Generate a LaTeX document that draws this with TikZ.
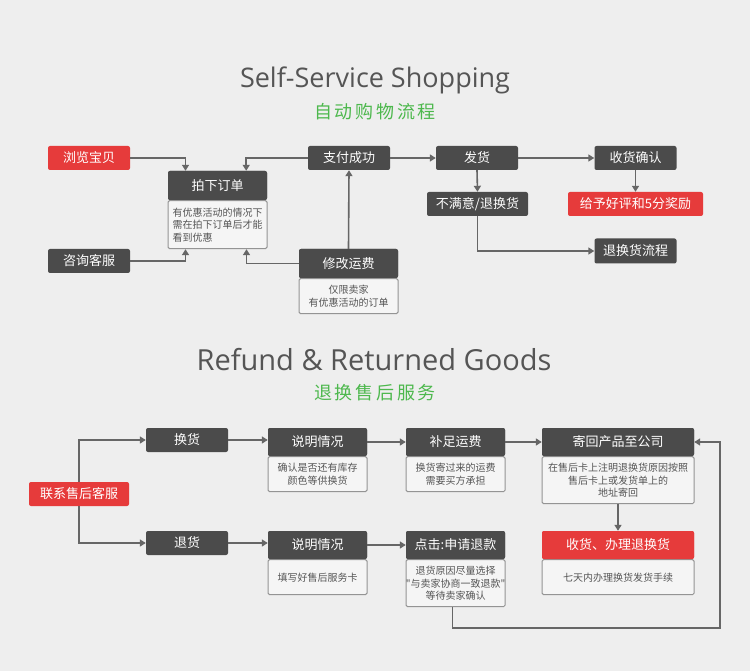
\documentclass[tikz,border=0pt]{standalone}
\usepackage{fontspec}
\newfontfamily\cjk{Noto Sans CJK SC}
\newfontfamily\cjkwide[LetterSpace=15]{Noto Sans CJK SC}
\newfontfamily\titlefont{Open Sans}
\usetikzlibrary{arrows.meta,positioning}
\definecolor{bggray}{HTML}{EEEEEE}
\definecolor{boxgray}{HTML}{4B4B4B}
\definecolor{boxred}{HTML}{E63B3B}
\definecolor{linegray}{HTML}{666666}
\definecolor{notefill}{HTML}{F5F5F5}
\definecolor{notetext}{HTML}{555555}
\definecolor{titlegray}{HTML}{555555}
\definecolor{subgreen}{HTML}{4DB84D}

\begin{document}
\begin{tikzpicture}[x=1pt, y=-1pt,
        dark/.style={rectangle, fill=boxgray, text=white, rounded corners=2pt,
            minimum width=82pt, minimum height=24pt, inner sep=0pt,
            font=\cjk\fontsize{13}{15}\selectfont},
        redbox/.style={dark, fill=boxred},
        head/.style={dark, minimum width=99pt, minimum height=28pt},
        note/.style={rectangle, draw=linegray!70, fill=notefill, line width=1pt,
            rounded corners=1.5pt, anchor=north, inner sep=0pt, align=center,
            text=notetext, font=\cjk\fontsize{10}{12.5}\selectfont},
        flow/.style={draw=linegray, line width=1.6pt,
            -{Triangle[length=6pt, width=7pt]}},
        maintitle/.style={text=titlegray, font=\titlefont\fontsize{27}{30}\selectfont},
        subtitle/.style={text=subgreen, font=\cjkwide\fontsize{18}{20}\selectfont},
    ]
        % Background and bounds
        \fill[bggray] (0,0) rectangle (750,671);
        \useasboundingbox (0,0) rectangle (750,671);

        % Titles
        \node[maintitle] (t1) at (375,80) {Self-Service Shopping};
        \node[subtitle] (s1) at (375,112) {自动购物流程};
        \node[maintitle, font=\titlefont\fontsize{29}{32}\selectfont] (t2)
            at (374,360) {Refund \& Returned Goods};
        \node[subtitle] (s2) at (375,393) {退换售后服务};

        % Shopping flow
        \node[redbox] (ll) at (89,158) {浏览宝贝};
        \node[dark] (zx) at (89,261) {咨询客服};
        \node[head, minimum height=29pt] (xd) at (217.5,185.5) {拍下订单};
        \node[note, minimum width=99pt, minimum height=48pt, align=left] (xdn)
            at (xd.south) {有优惠活动的情况下\\需在拍下订单后才能\\看到优惠};
        \node[dark] (zf) at (349,158) {支付成功};
        \node[head, minimum height=29pt] (xg) at (348.5,263.5) {修改运费};
        \node[note, minimum width=99pt, minimum height=35pt] (xgn)
            at (xg.south) {仅限卖家\\有优惠活动的订单};
        \node[dark] (fh) at (477,158) {发货};
        \node[dark] (sq) at (635.5,158) {收货确认};
        \node[dark, minimum width=101pt] (bm) at (477.5,204) {不满意/退换货};
        \node[redbox, minimum width=135pt] (hp) at (635.5,204) {给予好评和5分奖励};
        \node[dark, minimum height=25pt] (lc) at (635.5,251) {退换货流程};

        % Redraw headers over notes
        \node[head, minimum height=29pt] at (xd) {拍下订单};
        \node[head, minimum height=29pt] at (xg) {修改运费};

        % Shopping links
        \draw[flow] (ll.east) -| ([xshift=18pt]xdn.north west |- xd.north);
        \draw[flow] (zf.west) -| ([xshift=-21pt]xd.north east);
        \draw[flow] (zx.east) -| ([xshift=18pt]xdn.south west);
        \draw[flow] (xg.west) -| ([xshift=-21pt]xdn.south east);
        \draw[flow] (xg.north) -- (zf.south);
        \draw[flow] (zf.east) -- (fh.west);
        \draw[flow] (fh.east) -- (sq.west);
        \draw[flow] (fh.south) -- (bm.north);
        \draw[flow] (sq.south) -- (hp.north);
        \draw[flow] (bm.south) |- (lc.west);

        % Refund flow
        \node[redbox, minimum width=100pt] (lx) at (79,494) {联系售后客服};
        \node[dark] (hh) at (187,440) {换货};
        \node[dark] (tg) at (187,543) {退货};
        \node[head] (sm1) at (317.5,442) {说明情况};
        \node[note, minimum width=99pt, minimum height=35pt] (sm1n)
            at (sm1.south) {确认是否还有库存\\颜色等供换货};
        \node[head] (sm2) at (317.5,545) {说明情况};
        \node[note, minimum width=99pt, minimum height=35pt] (sm2n)
            at (sm2.south) {填写好售后服务卡};
        \node[head] (bz) at (455.5,442) {补足运费};
        \node[note, minimum width=99pt, minimum height=35pt] (bzn)
            at (bz.south) {换货寄过来的运费\\需要买方承担};
        \node[head] (dj) at (455.5,545) {点击:申请退款};
        \node[note, text width=99pt, minimum height=47pt] (djn)
            at (dj.south) {退货原因尽量选择\\\makebox[0pt]{"与卖家协商一致退款"}\\等待卖家确认};
        \node[head, minimum width=152pt] (jh) at (618,442) {寄回产品至公司};
        \node[note, minimum width=152pt, minimum height=47pt] (jhn)
            at (jh.south) {在售后卡上注明退换货原因按照\\售后卡上或发货单上的\\地址寄回};
        \node[head, fill=boxred, minimum width=152pt] (sd) at (618,545) {收货、办理退换货};
        \node[note, minimum width=152pt, minimum height=35pt] (sdn)
            at (sd.south) {七天内办理换货发货手续};
        \coordinate (rb) at (720,628);

        % Redraw headers over notes
        \node[head] at (sm1) {说明情况};
        \node[head] at (sm2) {说明情况};
        \node[head] at (bz) {补足运费};
        \node[head] at (dj) {点击:申请退款};
        \node[head, minimum width=152pt] at (jh) {寄回产品至公司};
        \node[head, fill=boxred, minimum width=152pt] at (sd) {收货、办理退换货};

        % Refund links
        \draw[flow] (lx.north) |- (hh.west);
        \draw[flow] (lx.south) |- (tg.west);
        \draw[flow] (hh.east) -- (hh.east -| sm1.west);
        \draw[flow] (tg.east) -- (tg.east -| sm2.west);
        \draw[flow] (sm1.east) -- (bz.west);
        \draw[flow] (sm2.east) -- (dj.west);
        \draw[flow] (bz.east) -- (jh.west);
        \draw[flow] (jhn.south) -- (sd.north);
        \draw[flow] ([xshift=-3pt]djn.south) |- (rb) |- (jh.east);
    \end{tikzpicture}
\end{document}
